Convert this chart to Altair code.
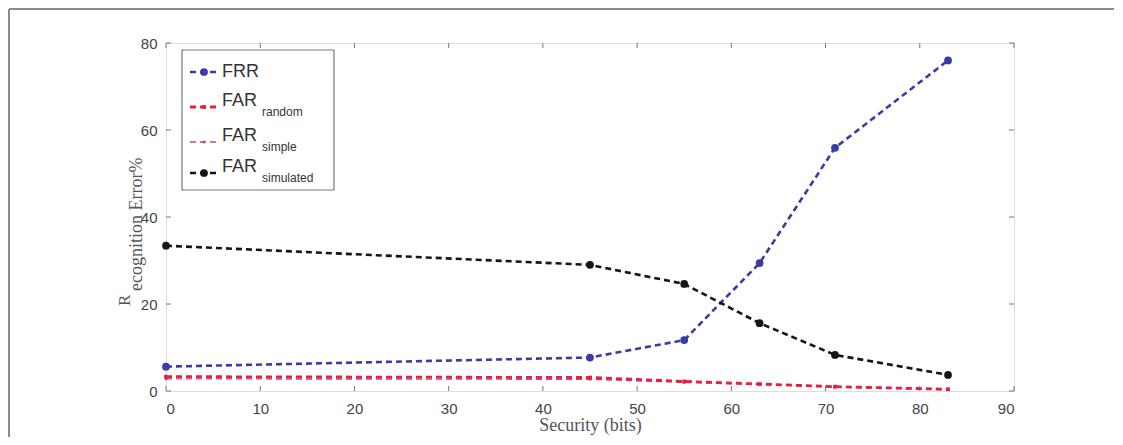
import altair as alt
import pandas as pd

# ---- data ----
security_bits = [0, 45, 55, 63, 71, 83]
frr = [5.6, 7.7, 11.7, 29.4, 55.9, 76.0]
far_random = [3.3, 3.1, 2.2, 1.6, 1.0, 0.4]
far_simple = [2.8, 2.7, 2.0, 1.5, 0.9, 0.3]
far_simulated = [33.4, 29.0, 24.6, 15.6, 8.3, 3.7]

x_ticks = [0, 10, 20, 30, 40, 50, 60, 70, 80, 90]
y_ticks = [0, 20, 40, 60, 80]

series_names = ["FRR", "FAR_random", "FAR_simple", "FAR_simulated"]
legend_main = ["FRR", "FAR", "FAR", "FAR"]
legend_sub = ["", "random", "simple", "simulated"]

x_title = "Security (bits)"
y_title_head = "R"
y_title_tail = "ecognition Error%"

W, H = 848, 348

styles = {
    "FRR": dict(color="#3b3ba6", width=2.6, size=60, shape="circle"),
    "FAR_random": dict(color="#e8203f", width=2.8, size=14, shape="square"),
    "FAR_simple": dict(color="#c8467a", width=1.4, size=10, shape="circle"),
    "FAR_simulated": dict(color="#151515", width=2.6, size=60, shape="circle"),
}
values = {"FRR": frr, "FAR_random": far_random, "FAR_simple": far_simple,
          "FAR_simulated": far_simulated}

xscale = alt.Scale(domain=[0, 90], nice=False, zero=False)
yscale = alt.Scale(domain=[0, 80], nice=False, zero=False)

one = pd.DataFrame({"a": [0]})
layers = []

# outer frame of the figure (top and left edges)
layers.append(alt.Chart(one).mark_rule(color="#8a8a8a", strokeWidth=2).encode(
    x=alt.value(-157), x2=alt.value(W + 100), y=alt.value(-34)))
layers.append(alt.Chart(one).mark_rule(color="#8a8a8a", strokeWidth=2).encode(
    x=alt.value(-157), y=alt.value(-34), y2=alt.value(H + 46)))

axis_base = alt.Chart(pd.DataFrame({"x": [0, 90], "y": [0, 80]})).mark_point(opacity=0).encode(
    x=alt.X("x:Q", scale=xscale, title=x_title,
            axis=alt.Axis(values=x_ticks, ticks=False, grid=False, domain=False,
                          labelPadding=10, labelFontSize=15, labelColor="#444",
                          labelFont="Liberation Sans",
                          titleFont="Liberation Serif", titleFontSize=18,
                          titleFontWeight="normal", titleColor="#555",
                          titleY=39, titleBaseline="alphabetic")),
    y=alt.Y("y:Q", scale=yscale, title=None,
            axis=alt.Axis(values=y_ticks, ticks=False, grid=False, domain=False,
                          labelPadding=9, labelFontSize=15, labelColor="#444",
                          labelFont="Liberation Sans")),
)
layers.append(axis_base)

# y-axis title as in the reference (head letter + shifted remainder)
layers.append(alt.Chart(pd.DataFrame({"t": [y_title_head]})).mark_text(
    angle=270, align="left", baseline="middle", font="Liberation Serif", fontSize=17,
    color="#555").encode(x=alt.value(-41), y=alt.value(263), text="t:N"))
layers.append(alt.Chart(pd.DataFrame({"t": [y_title_tail]})).mark_text(
    angle=270, align="left", baseline="middle", font="Liberation Serif", fontSize=18,
    color="#555").encode(x=alt.value(-29), y=alt.value(248), text="t:N"))

# inward ticks on all four sides
xt = pd.DataFrame({"t": x_ticks})
yt = pd.DataFrame({"t": y_ticks})
tick_color = "#777"
layers.append(alt.Chart(xt).mark_rule(color=tick_color).encode(
    x=alt.X("t:Q", scale=xscale), y=alt.value(H), y2=alt.value(H - 5)))
layers.append(alt.Chart(xt).mark_rule(color=tick_color).encode(
    x=alt.X("t:Q", scale=xscale), y=alt.value(0), y2=alt.value(5)))
layers.append(alt.Chart(yt).mark_rule(color=tick_color).encode(
    y=alt.Y("t:Q", scale=yscale), x=alt.value(0), x2=alt.value(5)))
layers.append(alt.Chart(yt).mark_rule(color=tick_color).encode(
    y=alt.Y("t:Q", scale=yscale), x=alt.value(W), x2=alt.value(W - 5)))

# series
for name in ["FAR_simple", "FAR_random", "FRR", "FAR_simulated"]:
    st = styles[name]
    df = pd.DataFrame({"x": security_bits, "y": values[name]})
    base = alt.Chart(df).encode(x=alt.X("x:Q", scale=xscale), y=alt.Y("y:Q", scale=yscale))
    layers.append(base.mark_line(color=st["color"], strokeWidth=st["width"],
                                 strokeDash=[6, 4]))
    layers.append(base.mark_point(color=st["color"], filled=True, opacity=1,
                                  size=st["size"], shape=st["shape"]))

# legend (manual, to allow subscripts)
lx0, ly0, lx1, ly1 = 16, 7, 168, 147
layers.append(alt.Chart(one).mark_rect(
    fill="white", stroke="#777", strokeWidth=1.2
).encode(x=alt.value(lx0), x2=alt.value(lx1), y=alt.value(ly0), y2=alt.value(ly1)))

line_rows = [29, 64, 99, 130]
for i, name in enumerate(series_names):
    st = styles[name]
    yy = line_rows[i]
    layers.append(alt.Chart(one).mark_rule(color=st["color"], strokeWidth=st["width"],
                                           strokeDash=[6, 4]).encode(
        x=alt.value(24), x2=alt.value(52), y=alt.value(yy)))
    layers.append(alt.Chart(one).mark_point(color=st["color"], filled=True, opacity=1,
                                            size=st["size"], shape=st["shape"]).encode(
        x=alt.value(38), y=alt.value(yy)))
    main_y = yy if legend_sub[i] == "" else yy - 6
    layers.append(alt.Chart(pd.DataFrame({"t": [legend_main[i]]})).mark_text(
        align="left", baseline="middle", font="Liberation Sans", fontSize=18,
        color="#333").encode(x=alt.value(56), y=alt.value(main_y), text="t:N"))
    if legend_sub[i]:
        layers.append(alt.Chart(pd.DataFrame({"t": [legend_sub[i]]})).mark_text(
            align="left", baseline="middle", font="Liberation Sans", fontSize=12,
            color="#333").encode(x=alt.value(96), y=alt.value(yy + 5), text="t:N"))

chart = alt.layer(*layers).properties(
    width=W, height=H,
    padding={"left": 158, "top": 35, "right": 101, "bottom": 46},
    autosize=alt.AutoSizeParams(type="none"),
).configure_view(stroke="#888", strokeWidth=1.2).configure(background="white")

chart.save("out.html", embed_options={"renderer": "svg", "actions": False})
